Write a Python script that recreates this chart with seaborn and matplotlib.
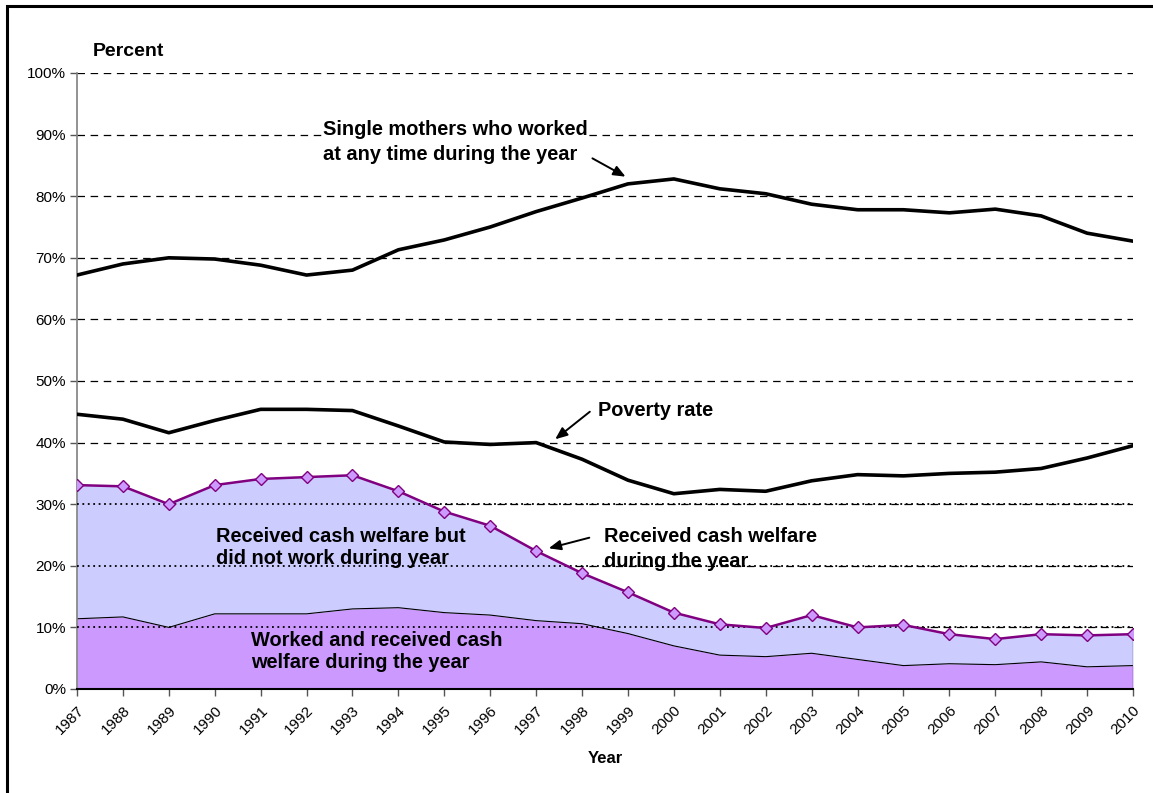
import matplotlib
matplotlib.use("Agg")
import matplotlib.pyplot as plt
import seaborn as sns
import numpy as np
import pandas as pd
from matplotlib.patches import Rectangle

years = list(range(1987, 2011))
worked = [67.2, 69.0, 70.0, 69.8, 68.8, 67.2, 68.0, 71.3, 72.9, 75.0, 77.5, 79.7,
          82.0, 82.8, 81.2, 80.4, 78.7, 77.8, 77.8, 77.3, 77.9, 76.8, 74.0, 72.7]
poverty = [44.6, 43.8, 41.6, 43.6, 45.4, 45.4, 45.2, 42.7, 40.1, 39.7, 40.0, 37.3,
           33.9, 31.7, 32.4, 32.1, 33.8, 34.8, 34.6, 35.0, 35.2, 35.8, 37.5, 39.5]
welfare = [33.1, 32.9, 30.0, 33.1, 34.1, 34.4, 34.7, 32.1, 28.8, 26.5, 22.4, 18.8,
           15.7, 12.4, 10.5, 9.9, 12.0, 10.0, 10.4, 8.9, 8.1, 8.9, 8.7, 8.9]
worked_welfare = [11.4, 11.7, 10.0, 12.2, 12.2, 12.2, 13.0, 13.2, 12.4, 12.0, 11.1, 10.6,
                  9.0, 7.0, 5.5, 5.25, 5.8, 4.8, 3.8, 4.1, 3.95, 4.4, 3.6, 3.8]
ytick_vals = [0, 10, 20, 30, 40, 50, 60, 70, 80, 90, 100]
ytick_labels = [f"{v}%" for v in ytick_vals]

df = pd.DataFrame({"Year": years, "worked": worked, "poverty": poverty,
                   "welfare": welfare, "ww": worked_welfare})

sns.set_theme(style="white", rc={"text.color": "black", "xtick.color": "black",
                                 "ytick.color": "black", "axes.labelcolor": "black"})
plt.rcParams["font.family"] = ["Liberation Sans", "DejaVu Sans"]

fig = plt.figure(figsize=(11.53, 7.93), dpi=100)
ax = fig.add_axes([77/1153, 104/793, (1133-77)/1153, (689-73)/793])

# dashed gridlines (behind)
for v in ytick_vals[1:]:
    ax.axhline(v, color="black", lw=0.9, ls=(0, (6, 4.5)), zorder=0)

# areas
ax.fill_between(df["Year"], 0, df["ww"], color="#CC99FF", lw=0, zorder=1)
ax.fill_between(df["Year"], df["ww"], df["welfare"], color="#CCCCFF", lw=0, zorder=1)
sns.lineplot(data=df, x="Year", y="ww", ax=ax, color="black", lw=0.8, zorder=2)
ax.vlines(years[-1], 0, welfare[-1], color="#555555", lw=1.0, zorder=2)

# dotted lines at 10,20,30 over areas
for v in ytick_vals[1:4]:
    ax.axhline(v, color="black", lw=1.3, ls=(0, (1, 2)), zorder=3)

# main lines
sns.lineplot(data=df, x="Year", y="worked", ax=ax, color="black", lw=2.6, zorder=4)
sns.lineplot(data=df, x="Year", y="poverty", ax=ax, color="black", lw=2.6, zorder=4)
sns.lineplot(data=df, x="Year", y="welfare", ax=ax, color="#800080", lw=1.8,
             marker="D", markersize=6.5, markerfacecolor="#CC99FF",
             markeredgecolor="#800080", markeredgewidth=1.0, zorder=5)

ax.set_xlim(years[0], years[-1])
ax.set_ylim(0, 100)
ax.set_xticks(years)
ax.set_xticklabels([str(y) for y in years], rotation=45, ha="right",
                   rotation_mode="anchor", fontsize=11)
ax.set_yticks(ytick_vals)
ax.set_yticklabels(ytick_labels, fontsize=11)
ax.tick_params(axis="both", direction="out", length=5, width=1, color="#555555",
               pad=3, left=True, bottom=True)
ax.tick_params(axis="x", pad=5)
ax.set_xlabel("Year", fontsize=12, fontweight="bold", labelpad=10)
ax.set_ylabel("")
for s in ["top", "right"]:
    ax.spines[s].set_visible(False)
ax.spines["left"].set_color("#808080")
ax.spines["left"].set_linewidth(1.2)
ax.spines["bottom"].set_color("black")
ax.spines["bottom"].set_linewidth(1.5)
ax.patch.set_alpha(0)

fig.text(93/1153, 1 - 52/793, "Percent", fontsize=14, fontweight="bold", va="center")

def px(x, y):
    return (x/1153, 1 - y/793)

tkw = dict(fontsize=14.4, fontweight="bold", va="center", ha="left")
t = fig.text(*px(323, 142), "Single mothers who worked\nat any time during the year",
             linespacing=1.35, **tkw)
t.set_bbox(dict(facecolor="white", edgecolor="none", pad=1))
fig.text(*px(598, 411), "Poverty rate", **tkw)
fig.text(*px(216, 547), "Received cash welfare but\ndid not work during year",
         linespacing=1.2, zorder=6, **tkw)
fig.text(*px(604, 549), "Received cash welfare\nduring the year", linespacing=1.35, **tkw)
fig.text(*px(251, 652), "Worked and received cash\nwelfare during the year",
         linespacing=1.2, **tkw)

akw = dict(arrowstyle="-|>,head_length=0.6,head_width=0.25", color="black", lw=1.4)
for (x0, y0, x1, y1) in [(590, 157, 628, 178), (592, 410, 553, 441), (592, 537, 546, 549)]:
    fig.add_artist(matplotlib.patches.FancyArrowPatch(px(x0, y0), px(x1, y1),
                   transform=fig.transFigure, mutation_scale=12, **akw))

fig.add_artist(Rectangle((7/1153, -0.05), 1.1, 1 - 6/793 + 0.05, transform=fig.transFigure,
                         fill=False, edgecolor="black", lw=2.2))

fig.savefig("out.png", dpi=100)
